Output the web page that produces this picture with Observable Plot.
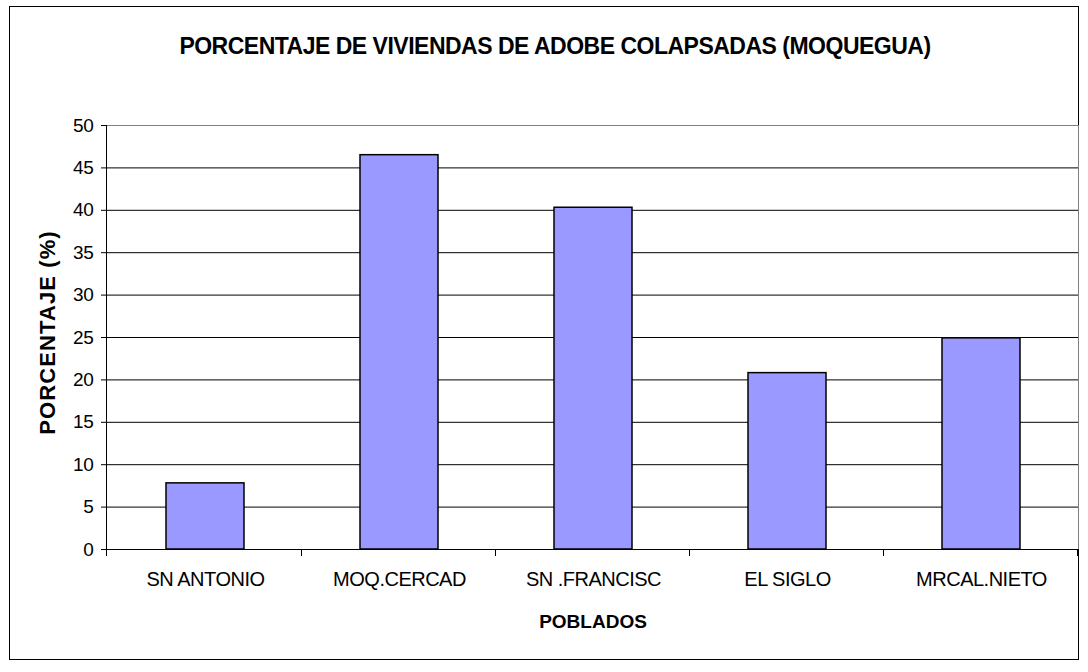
<!DOCTYPE html>
<html>
<head>
<meta charset="utf-8">
<script src="https://cdn.jsdelivr.net/npm/d3@7"></script>
<script src="https://cdn.jsdelivr.net/npm/@observablehq/plot@0.6"></script>
<style>
  html, body { margin: 0; padding: 0; background: #fff; }
  #wrap { position: relative; width: 1088px; height: 672px; font-family: "Liberation Sans", Arial, sans-serif; }
  #border { position: absolute; left: 9px; top: 6px; width: 1070px; height: 654px; border: 1px solid #000; box-sizing: border-box; }
  #title { position: absolute; left: 0; width: 1110px; top: 33px; text-align: center; font-weight: bold; font-size: 23px; letter-spacing: -0.5px; color: #000; line-height: 26px; }
  #chart { position: absolute; left: 0; top: 0; }
</style>
</head>
<body>
<div id="wrap">
  <div id="border"></div>
  <div id="title"></div>
  <div id="chart"></div>
</div>
<script>
const titleText = "PORCENTAJE DE VIVIENDAS DE ADOBE COLAPSADAS (MOQUEGUA)";
const yLabel = "PORCENTAJE (%)";
const xLabel = "POBLADOS";
const categories = ["SN ANTONIO", "MOQ.CERCAD", "SN .FRANCISC", "EL SIGLO", "MRCAL.NIETO"];
const values = [7.8, 46.5, 40.3, 20.8, 24.9];
const yTicks = [0, 5, 10, 15, 20, 25, 30, 35, 40, 45, 50];
const gridTicks = [5, 10, 15, 20, 25, 30, 35, 40, 45];

document.getElementById("title").textContent = titleText;

const data = categories.map((c, i) => ({cat: c, val: values[i]}));

const plot = Plot.plot({
  width: 1088,
  height: 672,
  marginLeft: 106,
  marginRight: 9,
  marginTop: 125,
  marginBottom: 123,
  style: {fontFamily: "Liberation Sans, Arial, sans-serif", background: "transparent", overflow: "visible", color: "#000"},
  x: {domain: categories, paddingInner: 0.6, paddingOuter: 0.3, label: null},
  y: {domain: [0, 50], label: null},
  marks: [
    Plot.ruleY(gridTicks, {stroke: "#000", strokeWidth: 1}),
    Plot.ruleY([50], {stroke: "#808080", strokeWidth: 1}),
    Plot.barY(data, {x: "cat", y: "val", fill: "#9999FF", stroke: "#000", strokeWidth: 1.5}),
    Plot.axisY({ticks: yTicks, tickSize: 5, tickPadding: 8, fontSize: 19, label: null, tickFormat: d => String(d), stroke: "#000"}),
    Plot.axisX({tickSize: 0, tickPadding: 22, fontSize: 20, label: null}),
    Plot.ruleY([0], {stroke: "#000", strokeWidth: 1}),
    (index, scales, vals, dims) => {
      const x = scales.x, y = scales.y;
      const step = x.step();
      const g = d3.create("svg:g").attr("stroke", "#000").attr("stroke-width", 1);
      const x0 = dims.marginLeft, x1 = dims.width - dims.marginRight;
      const yb = y(0), yt = y(50);
      g.append("line").attr("x1", x0 + 0.5).attr("x2", x0 + 0.5).attr("y1", yt).attr("y2", yb + 7);
      g.append("line").attr("x1", x1 - 0.5).attr("x2", x1 - 0.5).attr("y1", yt).attr("y2", yb).attr("stroke", "#808080");
      categories.forEach(c => {
        const bx = x(c) + x.bandwidth() / 2 + step / 2;
        g.append("line").attr("x1", Math.round(bx) - 0.5).attr("x2", Math.round(bx) - 0.5).attr("y1", yb).attr("y2", yb + 7);
      });
      return g.node();
    },
    Plot.text([yLabel], {frameAnchor: "left", textAnchor: "middle", rotate: -90, dx: -59, dy: -5, fontSize: 22, fontWeight: "bold", fill: "#000"}),
    Plot.text([xLabel], {frameAnchor: "bottom", dy: 78, fontSize: 19, fontWeight: "bold", fill: "#000"})
  ]
});
plot.querySelectorAll('g[aria-label="x-axis tick label"]').forEach(g => g.setAttribute("letter-spacing", "-0.5"));
plot.querySelectorAll('g[aria-label="y-axis tick label"]').forEach(g => g.setAttribute("letter-spacing", "-0.3"));
plot.querySelectorAll('g[aria-label="text"] text').forEach(t => {
  if (t.textContent === yLabel) t.setAttribute("letter-spacing", "1.1");
});
document.getElementById("chart").appendChild(plot);
</script>
</body>
</html>
